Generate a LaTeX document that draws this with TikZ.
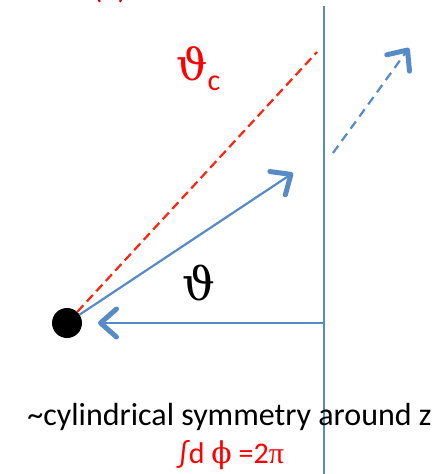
\documentclass[tikz,border=0pt]{standalone}
\usepackage{fontspec}
\setmainfont{Carlito}
\newfontfamily\symserif{Liberation Serif}
\newfontfamily\grk{DejaVu Serif}
\usetikzlibrary{arrows.meta}
\definecolor{lineblue}{RGB}{86,139,200}
\definecolor{dashred}{RGB}{255,35,15}
\definecolor{txtred}{RGB}{255,0,0}
\definecolor{darkred}{RGB}{192,0,0}
\begin{document}
\begin{tikzpicture}[x=1pt,y=-1pt,
  ln/.style={draw=lineblue, line width=2.2pt},
  barb/.style={-{Straight Barb[length=16pt,width=28pt,line width=5pt,round]}},
  reddash/.style={draw=dashred, line width=2.2pt, dash pattern=on 9pt off 5pt},
  bluedash/.style={ln, dash pattern=on 9pt off 6pt},
  big/.style={font=\fontsize{32}{36}\selectfont, inner sep=0pt}]
\useasboundingbox (0,0) rectangle (443,474);
\clip (0,0) rectangle (443,474);
% points
\node[circle, fill=black, inner sep=0pt, minimum size=30pt] (src) at (67,323) {};
\coordinate (wallTop) at (324,6);
\coordinate (wallBot) at (324,480);
\coordinate (wallHit) at (324,323);
\coordinate (tipH) at (98,323);
\coordinate (tipA) at (293,173);
\coordinate (cEnd) at (317,52);
\coordinate (dStart) at (333,153);
\coordinate (dTip) at (409,48);
% lines
\draw[ln] (wallTop) -- (wallBot);
\draw[reddash] (src) -- (cEnd);
\draw[ln, barb] (wallHit) -- (tipH);
\draw[ln, barb] (src) -- (tipA);
\draw[bluedash, barb] (dStart) -- (dTip);
% labels
\node[big, text=darkred, anchor=base] (lbl) at (110,-2) {(a)};
\node[inner sep=0pt, anchor=base west, text=txtred] (thc) at (176,80)
  {{\fontsize{44}{48}\selectfont\grk ϑ}\raisebox{-10pt}{\fontsize{30}{32}\selectfont c}};
\node[inner sep=0pt, text=black, font=\fontsize{46}{50}\selectfont\grk] (th) at (199,283) {ϑ};
\node[big, anchor=base] (sym) at (229.5,425) {\textasciitilde cylindrical symmetry around z};
\node[font=\fontsize{30}{34}\selectfont, inner sep=0pt, anchor=base, text=txtred] (int) at (231,463) {∫d {\grk ϕ} ={2\symserif π}};
\end{tikzpicture}
\end{document}
